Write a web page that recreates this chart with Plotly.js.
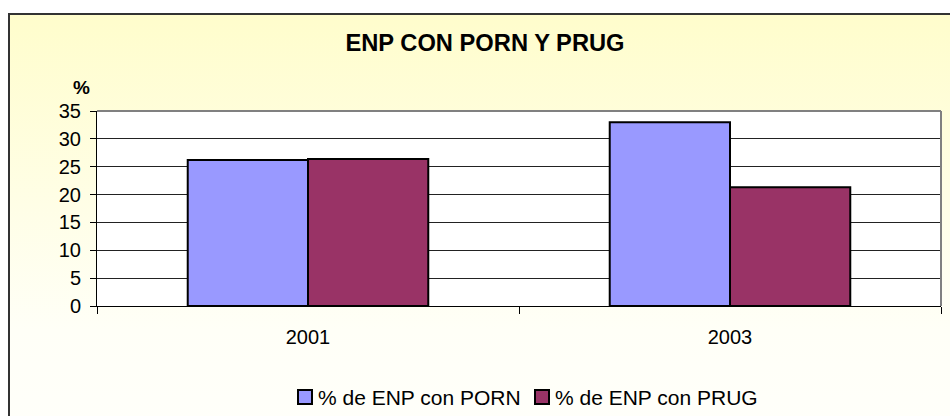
<!DOCTYPE html>
<html>
<head>
<meta charset="utf-8">
<script src="https://cdn.plot.ly/plotly-3.0.1.min.js"></script>
<style>
  html, body { margin: 0; padding: 0; background: #ffffff; }
  #wrap { position: relative; width: 950px; height: 416px; overflow: hidden; }
  #frame { position: absolute; left: 8px; top: 13px; width: 960px; height: 420px;
           border-top: 2px solid #333333; border-left: 2px solid #333333;
           background: linear-gradient(to bottom, #FFFDCC 0%, #FFFEE6 45%, #FFFFF7 75%, #FFFFFA 100%); }
  #chart { position: absolute; left: 0; top: 0; width: 950px; height: 416px; }
</style>
</head>
<body>
<div id="wrap">
  <div id="frame"></div>
  <div id="chart"></div>
</div>
<script>
const categories = ["2001", "2003"];
const seriesNames = ["% de ENP con PORN", "% de ENP con PRUG"];
const seriesColors = ["#9999FF", "#993366"];
const pornValues = [26.2, 33.0];
const prugValues = [26.4, 21.3];
const yTickValues = [0, 5, 10, 15, 20, 25, 30, 35];

const font = "'Liberation Sans', Arial, sans-serif";

// plot-area pixel geometry (used only to place legend boxes in paper coords)
const PL = 97, PR = 941, PT = 111, PB = 306;
const px = v => (v - PL) / (PR - PL);
const py = v => (PB - v) / (PB - PT);

const traces = [
  { type: "bar", name: seriesNames[0], x: categories, y: pornValues,
    marker: { color: seriesColors[0], line: { color: "#000000", width: 2 } }, hoverinfo: "none" },
  { type: "bar", name: seriesNames[1], x: categories, y: prugValues,
    marker: { color: seriesColors[1], line: { color: "#000000", width: 2 } }, hoverinfo: "none" }
];

const legendBoxX = [298, 535];
const legendTextX = [316, 553];
const legendY = 397;

const shapes = [
  { type: "line", xref: "paper", yref: "paper", x0: 0, x1: 1, y0: 1, y1: 1,
    line: { color: "#808080", width: 2 }, layer: "above" },
  { type: "line", xref: "paper", yref: "paper", x0: 1, x1: 1, y0: 0, y1: 1,
    line: { color: "#808080", width: 2 }, layer: "above" }
];
const annotations = [
  { text: "<b>%</b>", xref: "paper", yref: "paper", x: px(81), y: py(87),
    xanchor: "center", yanchor: "middle", showarrow: false,
    font: { family: font, size: 19, color: "#000000" } }
];
seriesNames.forEach((name, i) => {
  shapes.push({ type: "rect", xref: "paper", yref: "paper",
    x0: px(legendBoxX[i]), x1: px(legendBoxX[i] + 14),
    y0: py(legendY - 7), y1: py(legendY + 7),
    fillcolor: seriesColors[i], line: { color: "#000000", width: 2 }, layer: "above" });
  annotations.push({ text: name, xref: "paper", yref: "paper",
    x: px(legendTextX[i]), y: py(legendY), xanchor: "left", yanchor: "middle",
    showarrow: false, font: { family: font, size: 21, color: "#000000" } });
});

const layout = {
  width: 950, height: 416,
  paper_bgcolor: "rgba(0,0,0,0)",
  plot_bgcolor: "#FFFFFF",
  margin: { l: PL, r: 950 - PR, t: PT, b: 416 - PB, pad: 0, autoexpand: false },
  barmode: "group",
  bargap: 0.43,
  bargroupgap: 0,
  showlegend: false,
  font: { family: font, size: 20, color: "#000000" },
  title: {
    text: "<b>ENP CON PORN Y PRUG</b>",
    font: { family: font, size: 23.7, color: "#000000" },
    xref: "paper", x: px(485), xanchor: "center",
    yref: "container", y: 1 - 43 / 416, yanchor: "middle"
  },
  xaxis: {
    type: "category",
    tickson: "boundaries",
    ticks: "outside", ticklen: 7, tickwidth: 1, tickcolor: "#000000",
    showline: true, linecolor: "#000000", linewidth: 1,
    showgrid: false, zeroline: false,
    automargin: false,
    ticklabelstandoff: 13,
    tickfont: { family: font, size: 20, color: "#000000" }
  },
  yaxis: {
    range: [0, 35], tickvals: yTickValues,
    ticks: "outside", ticklen: 6, tickwidth: 1, tickcolor: "#000000",
    showline: true, linecolor: "#000000", linewidth: 1,
    showgrid: true, gridcolor: "#222222", gridwidth: 1,
    zeroline: false,
    automargin: false,
    ticklabelstandoff: 5,
    tickfont: { family: font, size: 20, color: "#000000" }
  },
  shapes: shapes,
  annotations: annotations
};

Plotly.newPlot("chart", traces, layout, { displayModeBar: false, staticPlot: true });
</script>
</body>
</html>
